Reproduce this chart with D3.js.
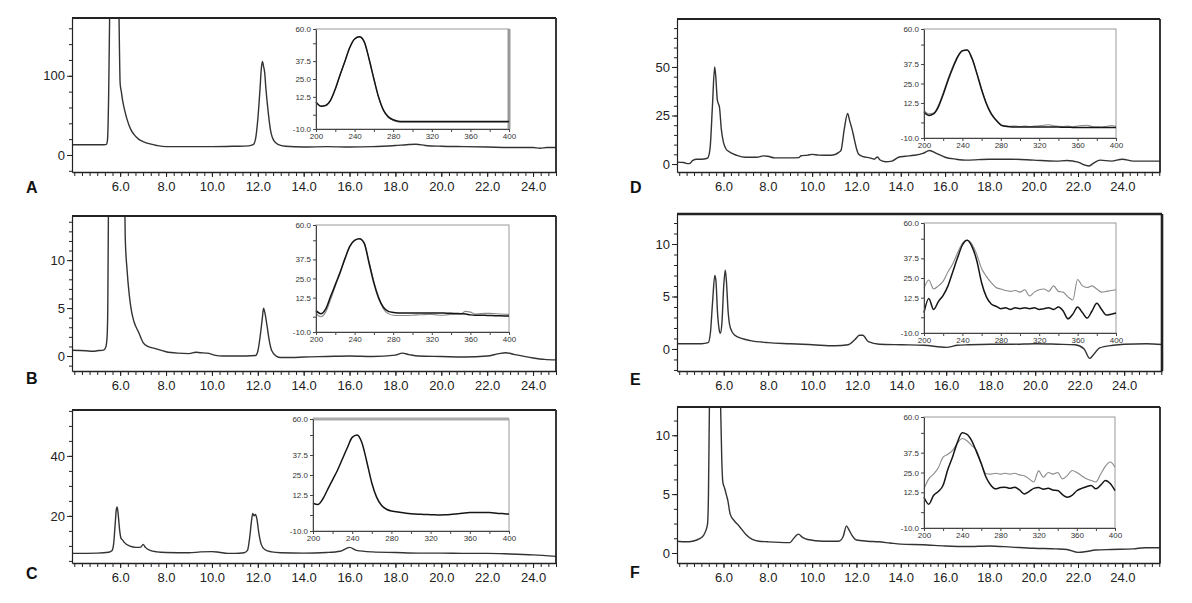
<!DOCTYPE html>
<html><head><meta charset="utf-8">
<script src="https://cdn.jsdelivr.net/npm/d3@7"></script>
<style>
body{margin:0;background:#fff}
svg{display:block}
text{font-family:"Liberation Sans",Arial,sans-serif}
</style>
</head><body>
<svg id="c" width="1192" height="603"></svg>
<script>
// ---------- chromatogram data: [retention time (min), signal] ----------
const chromA = [[3.9,13],[5.3,13],[5.4,13.5],[5.45,20],[5.5,80],[5.55,200],[5.6,320],[5.7,420],[5.8,400],[5.9,300],[5.95,175],[6.0,90],[6.05,80],[6.1,70],[6.2,56],[6.3,45],[6.45,33],[6.6,26],[6.8,20],[7.0,17],[7.3,14],[7.6,12],[8.0,10.5],[9.0,10.5],[10.0,10.5],[11.0,11],[11.6,11.5],[11.8,13],[11.9,20],[12.0,45],[12.1,85],[12.15,108],[12.2,118],[12.25,112],[12.3,104],[12.35,85],[12.45,55],[12.55,32],[12.7,18],[12.9,13],[13.2,11],[14.0,10],[15.0,10.5],[16.0,10],[17.0,10.5],[18.0,12],[18.5,13],[18.9,13.5],[19.3,12],[20.0,11],[21.0,10.5],[22.0,10],[23.0,9.5],[24.0,9.5],[24.3,8.5],[24.6,9.5],[25.0,9.5]];
const chromB = [[3.9,0.6],[4.5,0.55],[4.8,0.5],[5.0,0.55],[5.3,0.65],[5.38,1.0],[5.43,2.0],[5.46,5],[5.5,20],[5.6,40],[5.9,45],[6.15,40],[6.2,16],[6.22,12.4],[6.3,9],[6.4,6.3],[6.5,4.6],[6.6,3.6],[6.8,2.5],[7.0,1.4],[7.2,1.0],[7.5,0.8],[8.0,0.45],[8.5,0.3],[9.0,0.25],[9.3,0.4],[9.5,0.35],[9.8,0.3],[10.1,0.1],[10.5,0.0],[11.0,0.0],[11.5,0.0],[11.9,0.05],[12.0,0.5],[12.1,2.0],[12.2,4.0],[12.25,5.0],[12.3,4.6],[12.4,3.2],[12.5,1.6],[12.6,0.6],[12.8,0.0],[13.0,-0.15],[13.5,-0.15],[14.0,-0.1],[15.0,-0.05],[16.0,0.0],[17.0,-0.05],[18.0,0.1],[18.3,0.3],[18.6,0.15],[19.0,0.0],[20.0,-0.05],[21.0,-0.1],[22.0,0.0],[22.5,0.25],[22.8,0.35],[23.2,0.15],[24.0,-0.2],[24.5,-0.35],[25.0,-0.4]];
const chromC = [[3.9,7.5],[5.0,7.6],[5.5,7.9],[5.65,8.5],[5.72,11],[5.78,17],[5.83,22],[5.87,23],[5.92,20],[5.98,15],[6.04,12.5],[6.1,12],[6.2,11],[6.4,10],[6.7,9.5],[6.9,9.6],[7.0,10.5],[7.1,9.5],[7.3,8.5],[7.6,8.0],[8.0,7.8],[9.0,7.7],[9.5,8.0],[10.0,8.1],[10.3,7.9],[10.7,7.5],[11.0,7.5],[11.4,7.7],[11.55,8.5],[11.65,13],[11.72,18],[11.78,20.8],[11.84,20],[11.9,20.5],[11.96,19],[12.05,14],[12.15,10.5],[12.3,8.8],[12.6,8.0],[13.0,7.7],[14.0,7.6],[15.0,7.8],[15.6,8.2],[16.0,9.5],[16.3,8.5],[17.0,8.0],[18.0,7.8],[19.0,7.6],[20.0,7.6],[21.0,7.5],[22.0,7.5],[23.0,7.3],[24.0,7.0],[25.0,6.5]];
const chromD = [[3.9,1.0],[4.2,0.8],[4.4,0.2],[4.5,0.5],[4.6,1.8],[4.8,2.5],[5.0,2.5],[5.27,3.0],[5.35,5],[5.4,9],[5.5,30],[5.6,50],[5.65,45],[5.72,33],[5.82,29],[5.9,18],[6.0,11],[6.1,8],[6.3,6],[6.6,4.5],[7.0,3.5],[7.5,3.5],[7.8,4.2],[8.0,4.0],[8.3,3.2],[9.0,3.2],[9.4,3.3],[9.5,4.3],[9.8,4.6],[10.0,5.0],[10.3,4.6],[10.7,4.5],[11.0,4.8],[11.2,6.0],[11.3,7],[11.45,18],[11.6,26],[11.7,22],[11.8,18],[11.9,13],[12.0,8],[12.1,5],[12.3,3.8],[12.6,3.2],[12.8,2.5],[12.95,3.6],[13.05,2.2],[13.3,1.2],[13.6,1.5],[13.9,3.5],[14.2,4.0],[14.6,4.5],[15.0,5.5],[15.3,7.0],[15.6,5.5],[16.0,3.5],[16.5,2.5],[17.0,2.0],[18.0,2.5],[19.0,2.5],[20.0,2.0],[21.0,1.5],[21.5,1.8],[22.0,1.0],[22.3,-0.5],[22.5,-1.0],[22.7,0.5],[23.0,2.0],[23.5,1.5],[24.0,2.5],[24.5,1.5],[25.0,1.5],[25.8,1.5]];
const chromE = [[3.9,0.5],[5.0,0.5],[5.3,0.6],[5.4,1.5],[5.5,4.5],[5.6,7.0],[5.65,6.5],[5.72,3.5],[5.8,1.8],[5.85,1.5],[5.92,2.5],[6.0,6.0],[6.07,7.5],[6.12,6.5],[6.2,3.5],[6.3,2.0],[6.5,1.3],[6.8,1.0],[7.2,0.8],[8.0,0.6],[9.0,0.5],[10.0,0.4],[11.0,0.3],[11.6,0.4],[11.9,0.9],[12.1,1.3],[12.25,1.3],[12.5,0.7],[13.0,0.45],[14.0,0.4],[15.0,0.35],[16.0,0.15],[16.5,0.35],[17.0,0.4],[18.0,0.45],[19.0,0.45],[20.0,0.5],[21.0,0.45],[21.8,0.4],[22.2,0.0],[22.45,-0.9],[22.6,-0.6],[22.9,0.1],[23.5,0.35],[24.0,0.45],[25.0,0.5],[25.8,0.4]];
const chromF = [[3.9,1.0],[4.3,0.95],[4.6,1.0],[4.9,1.2],[5.1,1.5],[5.2,1.9],[5.28,2.5],[5.32,5],[5.36,12],[5.45,25],[5.6,30],[5.8,20],[5.87,12.4],[5.92,8],[5.97,6.0],[6.05,5.5],[6.12,5.0],[6.2,4.4],[6.3,3.3],[6.5,2.7],[6.7,2.3],[7.0,1.6],[7.3,1.15],[7.6,1.0],[8.0,0.95],[8.5,0.9],[9.0,0.88],[9.15,1.2],[9.38,1.6],[9.55,1.35],[9.8,1.15],[10.5,1.0],[11.2,1.0],[11.4,1.4],[11.55,2.3],[11.65,2.0],[11.8,1.5],[12.0,1.1],[12.5,1.0],[13.0,0.95],[13.5,0.85],[14.0,0.75],[15.0,0.7],[16.0,0.6],[17.0,0.55],[18.0,0.6],[19.0,0.5],[20.0,0.4],[21.0,0.35],[21.5,0.3],[22.0,0.05],[22.3,0.1],[22.8,0.25],[23.5,0.3],[24.5,0.35],[25.0,0.45],[25.8,0.45]];

// ---------- UV spectra (insets) ----------
const wavelengths = [200,205,210,215,220,225,230,235,240,245,250,255,260,265,270,275,280,285,290,295,300,305,310,315,320,325,330,335,340,345,350,355,360,365,370,375,380,385,390,395,400];
const specA1 = [9,6,6.5,10,18,28,37.5,47,53,54.5,51,39,25,12,3,-1.5,-3.5,-4.5,-4.8,-4.8,-4.8,-4.8,-4.8,-4.8,-4.8,-4.8,-4.8,-4.8,-4.8,-4.8,-4.8,-4.8,-4.8,-4.8,-4.8,-4.8,-4.8,-4.8,-4.8,-4.8,-4.8];
const specA2 = [9,6,6.5,10,18,28,37.5,47,53,54.5,51,39,25,12,3,-1.8,-4,-5,-5.3,-5.3,-5.3,-5.3,-5.3,-5.3,-5.3,-5.3,-5.3,-5.3,-5.3,-5.3,-5.3,-5.3,-5.3,-5.3,-5.3,-5.3,-5.3,-5.3,-5.3,-5.3,-5.3];
const specB1 = [4,2,5,13,21,29,38,46,50,51,48,35,22,12,6,3.5,2.8,2.5,2.5,2.5,2.5,2.5,2.5,2.5,2.5,2.5,2.5,2.3,2.2,2.1,2.0,1.8,1.2,1.0,1.0,0.9,0.8,0.7,0.6,0.5,0.5];
const specB2 = [2,0,3,11,20,29,38,46,50,51,48,36,23,13,5,2,1,0.8,0.8,0.8,1.0,1.2,1.3,1.5,1.5,1.2,1.0,1.2,1.5,1.6,1.8,3.5,3.0,1.8,2.0,2.2,2.2,2.0,1.8,1.6,1.5];
const specC1 = [7.3,6.5,10,16,22,28,35,42,48.5,50,45,33,20,11,6,3.6,2.5,2,1.5,1.1,0.8,0.6,0.4,0.3,0.2,0.1,0,0.1,0.3,0.6,1.0,1.3,1.5,1.6,1.6,1.6,1.5,1.3,1.0,0.8,0.6];
const specD1 = [6.5,4.5,5.5,10,18,27,35,42,46,46.5,41,31.5,21,12,5.5,1.5,-1.5,-2.5,-2.8,-3,-3,-3,-3,-3,-3,-3,-3,-3,-3,-3.1,-3.1,-3.2,-3.2,-3.2,-3.2,-3.3,-3.3,-3.3,-3.3,-3.3,-3.3];
const specD2 = [7.5,5.5,6,11,19,28,36,42.5,46,46.5,41.5,32,21.5,12.5,6,1.5,-1.8,-2.2,-2.5,-2.3,-2.6,-2.3,-2.6,-2.4,-2.2,-1.8,-1.5,-2.2,-2.5,-2.6,-2.4,-2.8,-2.3,-2,-1.8,-2.6,-2.8,-3,-2.6,-2,-2.4];
const specE1 = [3,12,5,10,14,20,29,38,46,49,45,36,22,13,8.5,7,5.5,6,5,6,5.5,6,5.5,6,5,5.5,6,5,6.5,4,-1,2,6.5,3,-0.5,4,9,5,1.5,2,2.7];
const specE2 = [18.5,23.7,18,20,23,29,34,41,47,49,46.5,40,31,26,22,19,18,17,16.5,17,16,17.5,13.5,16,17.5,18,16.5,20,16.5,16,13,11,24,20,19,20,18,16,16.5,17,17.5];
const specF1 = [9.4,5,10.5,13,17,27,35,44,50,49,45,38,30.5,22,17,14.7,15.5,15.7,15,15.7,14,11.5,13,15,15.5,14.5,15,14,13.6,11,9.4,10.5,13.5,15,16,16.8,14.7,17,20,18,13.6];
const specF2 = [14.7,21,24,28,34.7,36.5,39,43.5,46.4,45,42,39,30.5,24.2,24,24.5,24,24.5,24,24.5,23.5,23,21,19,26,22,25,24,25,21,23,26.3,25,23,21,20,19,24,29,31.6,28.4];

// ---------- tick labels ----------
const timeTicks = [6,8,10,12,14,16,18,20,22,24];
const specXTicks = [200,240,280,320,360,400];
const specYTicks = [60,37.5,25,12.5,-10];
const specYMinor = [60,50,37.5,25,12.5,0,-10];

// ---------- layout (positions only) ----------
const panels = [
  {id:'A', data:chromA, spec:[specA1,specA2], x0:72, x1:556, y0:18, y1:172, xDom:[3.9,25.0], yDom:[-21.5,173], yMajor:[0,100], yMinor:[-20,0,20,40,60,80,100,120,140,160],
   inset:{x0:316,x1:509,y0:29,y1:129}, letter:[26,193]},
  {id:'B', data:chromB, spec:[specB1,specB2], x0:72, x1:556, y0:216, y1:371, xDom:[3.9,25.0], yDom:[-1.56,14.6], yMajor:[0,5,10], yMinor:[-1,0,1,2,3,4,5,6,7,8,9,10,11,12,13,14],
   inset:{x0:316,x1:509,y0:225,y1:332}, letter:[26,384]},
  {id:'C', data:chromC, spec:[specC1], x0:72, x1:556, y0:410, y1:563, xDom:[3.9,25.0], yDom:[4.3,55.3], yMajor:[20,40], yMinor:[5,10,15,20,25,30,35,40,45,50,55],
   inset:{x0:313,x1:509,y0:419,y1:531}, letter:[26,579]},
  {id:'D', data:chromD, spec:[specD1,specD2], x0:677, x1:1160, y0:19, y1:172, xDom:[3.9,25.7], yDom:[-4.1,74.7], yMajor:[0,25,50], yMinor:[0,5,10,15,20,25,30,35,40,45,50,55,60,65,70],
   inset:{x0:924,x1:1116,y0:29,y1:138}, letter:[630,193]},
  {id:'E', data:chromE, spec:[specE1,specE2], x0:677, x1:1162, y0:214, y1:371, xDom:[3.9,25.7], yDom:[-2.1,12.86], yMajor:[0,5,10], yMinor:[-2,-1,0,1,2,3,4,5,6,7,8,9,10,11,12],
   inset:{x0:924,x1:1116,y0:223,y1:333}, letter:[630,385]},
  {id:'F', data:chromF, spec:[specF1,specF2], x0:677, x1:1160, y0:407, y1:563, xDom:[3.9,25.7], yDom:[-0.85,12.4], yMajor:[0,5,10], yMinor:[0,1.25,2.5,3.75,5,6.25,7.5,8.75,10,11.25],
   inset:{x0:924,x1:1115,y0:417,y1:528}, letter:[630,578]}
];

const svg = d3.select('#c');
svg.append('rect').attr('width',1192).attr('height',603).attr('fill','#fff');
const defs = svg.append('defs');
const fmt1 = d => d.toFixed(1);

panels.forEach(p => {
  const g = svg.append('g');
  const x = d3.scaleLinear().domain(p.xDom).range([p.x0, p.x1]);
  const y = d3.scaleLinear().domain(p.yDom).range([p.y1, p.y0]);
  const cid = 'clip' + p.id;
  defs.append('clipPath').attr('id', cid).append('rect')
    .attr('x', p.x0).attr('y', p.y0).attr('width', p.x1 - p.x0).attr('height', p.y1 - p.y0);

  g.append('path').datum(p.data)
    .attr('clip-path', `url(#${cid})`)
    .attr('fill','none').attr('stroke','#333').attr('stroke-width',1.4)
    .attr('stroke-linejoin','round')
    .attr('d', d3.line().x(d => x(d[0])).y(d => y(d[1])).curve(d3.curveMonotoneX));

  const minorX = [];
  for (let t = 4; t <= p.xDom[1] + 1e-6; t += 1/3) minorX.push(+t.toFixed(4));
  g.append('g').attr('transform',`translate(0,${p.y1})`)
    .call(d3.axisBottom(x).tickValues(minorX).tickSize(4).tickFormat(''))
    .call(a => a.select('.domain').remove())
    .selectAll('line').attr('stroke','#222');
  const xa = g.append('g').attr('transform',`translate(0,${p.y1})`)
    .call(d3.axisBottom(x).tickValues(timeTicks).tickSize(5).tickPadding(5).tickFormat(fmt1).tickSizeOuter(0));
  xa.select('.domain').attr('stroke','#222').attr('stroke-width',1.4);
  xa.selectAll('line').attr('stroke','#222');
  xa.selectAll('text').attr('font-size',13).attr('fill','#222');

  g.append('g').attr('transform',`translate(${p.x0},0)`)
    .call(d3.axisLeft(y).tickValues(p.yMinor).tickSize(3).tickFormat(''))
    .call(a => a.select('.domain').remove())
    .selectAll('line').attr('stroke','#222');
  const ya = g.append('g').attr('transform',`translate(${p.x0},0)`)
    .call(d3.axisLeft(y).tickValues(p.yMajor).tickSize(5).tickPadding(2).tickSizeOuter(0).tickFormat(d3.format('d')));
  ya.select('.domain').attr('stroke','#222').attr('stroke-width',1.2);
  ya.selectAll('line').attr('stroke','#222');
  ya.selectAll('text').attr('font-size',13).attr('fill','#222');

  const fw = p.id === 'E' ? 2.6 : 1.8;
  g.append('line').attr('x1',p.x0).attr('x2',p.x1).attr('y1',p.y0).attr('y2',p.y0).attr('stroke','#222').attr('stroke-width',fw);
  g.append('line').attr('x1',p.x1).attr('x2',p.x1).attr('y1',p.y0).attr('y2',p.y1).attr('stroke','#222').attr('stroke-width',fw);

  svg.append('text').attr('x',p.letter[0]).attr('y',p.letter[1]).text(p.id)
    .attr('font-size',16).attr('font-weight','bold').attr('fill','#111');

  const b = p.inset;
  const sx = d3.scaleLinear().domain([200,400]).range([b.x0, b.x1]);
  const sy = d3.scaleLinear().domain([-10,60]).range([b.y1, b.y0]);
  const ig = svg.append('g');
  ig.append('rect').attr('x',b.x0).attr('y',b.y0).attr('width',b.x1-b.x0).attr('height',b.y1-b.y0)
    .attr('fill','#fff').attr('stroke','#9a9a9a').attr('stroke-width',1);
  if (p.id === 'A') ig.append('line').attr('x1',b.x1).attr('x2',b.x1).attr('y1',b.y0).attr('y2',b.y1).attr('stroke','#999').attr('stroke-width',3);
  if (p.id === 'C') ig.append('line').attr('x1',b.x0).attr('x2',b.x1).attr('y1',b.y0).attr('y2',b.y0).attr('stroke','#aaa').attr('stroke-width',3);

  const sline = d3.line().x((d,i) => sx(wavelengths[i])).y(d => sy(d)).curve(d3.curveMonotoneX);
  p.spec.slice().reverse().forEach((s, k) => {
    const idx = p.spec.length - 1 - k;
    ig.append('path').datum(s).attr('fill','none')
      .attr('stroke', idx === 0 ? '#151515' : '#8a8a8a')
      .attr('stroke-width', idx === 0 ? 1.5 : 1.1)
      .attr('d', sline);
  });

  const iy = ig.append('g').attr('transform',`translate(${b.x0},0)`)
    .call(d3.axisLeft(sy).tickValues(specYMinor).tickSize(3).tickPadding(2).tickSizeOuter(0)
      .tickFormat(d => specYTicks.includes(d) ? fmt1(d) : ''));
  iy.select('.domain').attr('stroke','#444');
  iy.selectAll('line').attr('stroke','#444');
  iy.selectAll('text').attr('font-size',8).attr('fill','#333');

  const minorS = [200,220,240,260,280,300,320,340,360,380,400];
  const ix = ig.append('g').attr('transform',`translate(0,${b.y1})`)
    .call(d3.axisBottom(sx).tickValues(minorS).tickSize(3).tickPadding(1).tickSizeOuter(0)
      .tickFormat(d => specXTicks.includes(d) ? String(d) : ''));
  ix.select('.domain').attr('stroke','#444');
  ix.selectAll('line').attr('stroke','#444');
  ix.selectAll('text').attr('font-size',8).attr('fill','#333');
});
</script>
</body></html>
